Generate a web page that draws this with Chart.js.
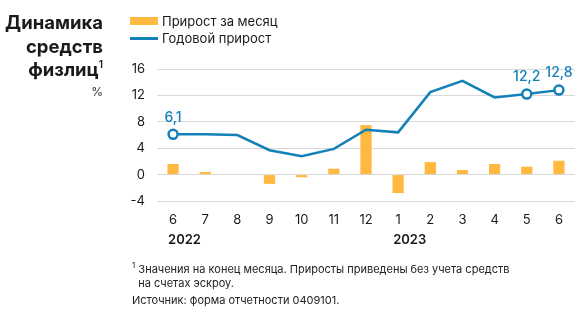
<!DOCTYPE html>
<html>
<head>
<meta charset="utf-8">
<script src="https://cdn.jsdelivr.net/npm/chart.js@4"></script>
<style>
  body { margin: 0; background: #fff; font-family: Inter, "Noto Sans", sans-serif; color: #1a1a1a; }
  #wrap { position: relative; width: 582px; height: 326px; overflow: hidden; }
  #chart { position: absolute; left: 0; top: 0; }
  .title { position: absolute; right: 479px; top: 11px; text-align: right; font-weight: 700; font-size: 18.5px; line-height: 23.5px; }
  .title sup { font-size: 10px; font-weight: 600; vertical-align: 8px; line-height: 0; }
  .unit { position: absolute; right: 479px; top: 84px; font-size: 12px; color: #333; }
  .leg { position: absolute; left: 130px; font-size: 13px; display: flex; align-items: center; }
  .leg .sw { width: 28px; margin-right: 4px; }
  .note { position: absolute; left: 132px; font-size: 11px; line-height: 14px; color: #222; }
</style>
</head>
<body>
<div id="wrap">
  <canvas id="chart" width="582" height="326"></canvas>
  <div class="title">Динамика<br>средств<br>физлиц<sup>1</sup></div>
  <div class="unit">%</div>
  <div class="leg" style="top:13px"><span class="sw" style="height:8px;background:#ffb940"></span>Прирост за месяц</div>
  <div class="leg" style="top:30px"><span class="sw" style="height:3px;background:#1380b8"></span>Годовой прирост</div>
  <div class="note" style="top:262px"><sup style="font-size:8px;line-height:0">1</sup> Значения на конец месяца. Приросты приведены без учета средств<br>&nbsp;&nbsp;на счетах эскроу.</div>
  <div class="note" style="top:293px">Источник: форма отчетности 0409101.</div>
</div>
<script>
// Data
const months = ['6', '7', '8', '9', '10', '11', '12', '1', '2', '3', '4', '5', '6'];
const years = ['2022', '', '', '', '', '', '', '2023', '', '', '', '', ''];
const monthlyGrowth = [1.6, 0.4, 0, -1.4, -0.4, 0.9, 7.5, -2.8, 1.9, 0.7, 1.6, 1.2, 2.1];
const annualGrowth = [6.1, 6.1, 6.0, 3.7, 2.8, 3.9, 6.8, 6.4, 12.5, 14.2, 11.7, 12.2, 12.8];
const labelledPoints = [0, 11, 12];

const BLUE = '#1380b8';
const ORANGE = '#ffb940';

// year captions + value labels
const extras = {
  id: 'extras',
  afterDraw(chart) {
    const ctx = chart.ctx;
    const x = chart.scales.x;
    const y = chart.scales.y;
    ctx.save();
    ctx.font = '600 13px Inter, "Noto Sans", sans-serif';
    ctx.fillStyle = '#1a1a1a';
    ctx.textAlign = 'left';
    ctx.textBaseline = 'middle';
    years.forEach((yr, i) => {
      if (yr) ctx.fillText(yr, x.getPixelForValue(i) - 5, 240);
    });
    ctx.font = '500 14px Inter, "Noto Sans", sans-serif';
    ctx.fillStyle = BLUE;
    ctx.textAlign = 'center';
    labelledPoints.forEach(i => {
      const v = annualGrowth[i];
      ctx.fillText(v.toFixed(1).replace('.', ','), x.getPixelForValue(i), y.getPixelForValue(v) - 17);
    });
    ctx.restore();
  }
};

new Chart(document.getElementById('chart'), {
  data: {
    labels: months,
    datasets: [
      {
        type: 'line',
        data: annualGrowth,
        borderColor: BLUE,
        borderWidth: 2.5,
        tension: 0,
        order: 0,
        pointRadius: annualGrowth.map((v, i) => labelledPoints.includes(i) ? 4.5 : 0),
        pointBackgroundColor: '#fff',
        pointBorderColor: BLUE,
        pointBorderWidth: 2.5
      },
      {
        type: 'bar',
        data: monthlyGrowth,
        backgroundColor: ORANGE,
        barPercentage: 0.35,
        categoryPercentage: 1,
        order: 1
      }
    ]
  },
  options: {
    responsive: false,
    animation: false,
    layout: { padding: { left: 100, top: 69, right: 2, bottom: 85 } },
    plugins: { legend: { display: false }, tooltip: { enabled: false } },
    scales: {
      x: {
        offset: true,
        grid: { display: false, drawTicks: false },
        border: { display: false },
        ticks: { color: '#1a1a1a', font: { family: 'Inter', size: 13 }, padding: 11, maxRotation: 0 },
        afterFit: s => { s.height = 40; }
      },
      y: {
        min: -4,
        max: 16,
        ticks: { stepSize: 4, color: '#1a1a1a', font: { family: 'Inter', size: 13 }, padding: 12 },
        grid: { color: '#d9d9d9', drawTicks: false },
        border: { display: false },
        afterFit: s => { s.width = 57; }
      }
    }
  },
  plugins: [extras]
});
</script>
</body>
</html>
